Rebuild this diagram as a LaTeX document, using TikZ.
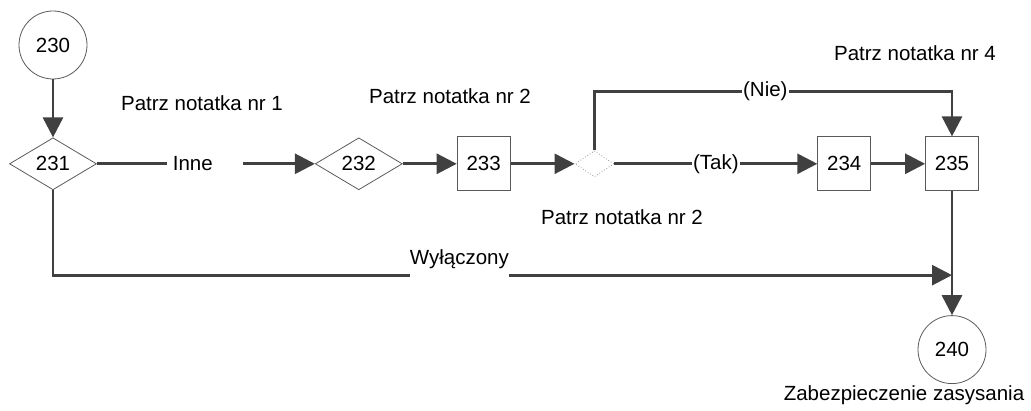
\documentclass[tikz,border=0pt]{standalone}
\usepackage{fontspec}
\setmainfont{Liberation Sans}
\usetikzlibrary{arrows.meta,positioning,calc,shapes.geometric}
\definecolor{linegray}{HTML}{404040}
\definecolor{edgegray}{HTML}{5A5A5A}
\newcommand{\diagfont}{\fontsize{20.5}{24}\selectfont}
\tikzset{
  stepcircle/.style={circle, draw=edgegray, line width=0.8pt, minimum size=68pt, inner sep=0pt, font=\diagfont},
  decision/.style={diamond, draw=edgegray, line width=0.8pt, minimum width=87pt, minimum height=52pt, inner sep=0pt, font=\diagfont},
  stepbox/.style={rectangle, draw=edgegray, line width=0.8pt, minimum width=53pt, minimum height=54pt, inner sep=0pt, font=\diagfont},
  junction/.style={diamond, draw=black!40, dotted, line width=0.8pt, minimum width=39pt, minimum height=26pt, inner sep=0pt},
  arrow/.style={-{Triangle[length=20pt,width=20pt]}, line width=2.8pt, draw=linegray},
  lbl/.style={fill=white, inner sep=1pt, font=\diagfont},
  note/.style={inner sep=0pt, font=\diagfont}
}
\begin{document}
\begin{tikzpicture}[x=1pt, y=-1pt]
\useasboundingbox (0,0) rectangle (1031,411);
% steps of the sequence
\node[stepcircle] (c230) at (53,45) {230};
\node[decision, below=58pt of c230] (d231) {231};
\node[decision, right=218pt of d231] (d232) {232};
\node[stepbox, right=54pt of d232] (b233) {233};
\node[junction, right=64pt of b233] (dsm) {};
\node[stepbox, right=203pt of dsm] (b234) {234};
\node[stepbox, right=54pt of b234] (b235) {235};
\node[stepcircle, below=124pt of b235] (c240) {240};
% notes
\node[note] (n1) at (202,103) {Patrz notatka nr 1};
\node[note] (n2) at (450,96) {Patrz notatka nr 2};
\node[note] (n3) at (622,217) {Patrz notatka nr 2};
\node[note] (n4) at (915,53) {Patrz notatka nr 4};
\node[note] (n5) at (904,395) {Zabezpieczenie zasysania};
% helper points
\coordinate[above=45pt of b235.north] (nie);
\coordinate (wyl) at ($(b235.south)!0.677!(c240.north)$);
% connectors
\draw[arrow] (c230) -- (d231);
\draw[arrow] (d231) -- node[lbl, pos=0.495, text width=64pt, align=left, inner xsep=6pt] {Inne} (d232);
\draw[arrow] (d232) -- (b233);
\draw[arrow] (b233) -- (dsm);
\draw[arrow] (dsm) -- node[lbl, pos=0.5] {(Tak)} (b234);
\draw[arrow] (dsm.north) |- node[lbl, pos=0.739] {(Nie)} (nie) -- (b235.north);
\draw[arrow] (b234) -- (b235);
\draw[arrow] (b235) -- (c240);
\draw[arrow] (d231.south) |- node[lbl, pos=0.726, anchor=base, yshift=11pt, inner xsep=0pt, inner ysep=9pt] {Wyłączony} (wyl);
\end{tikzpicture}
\end{document}
